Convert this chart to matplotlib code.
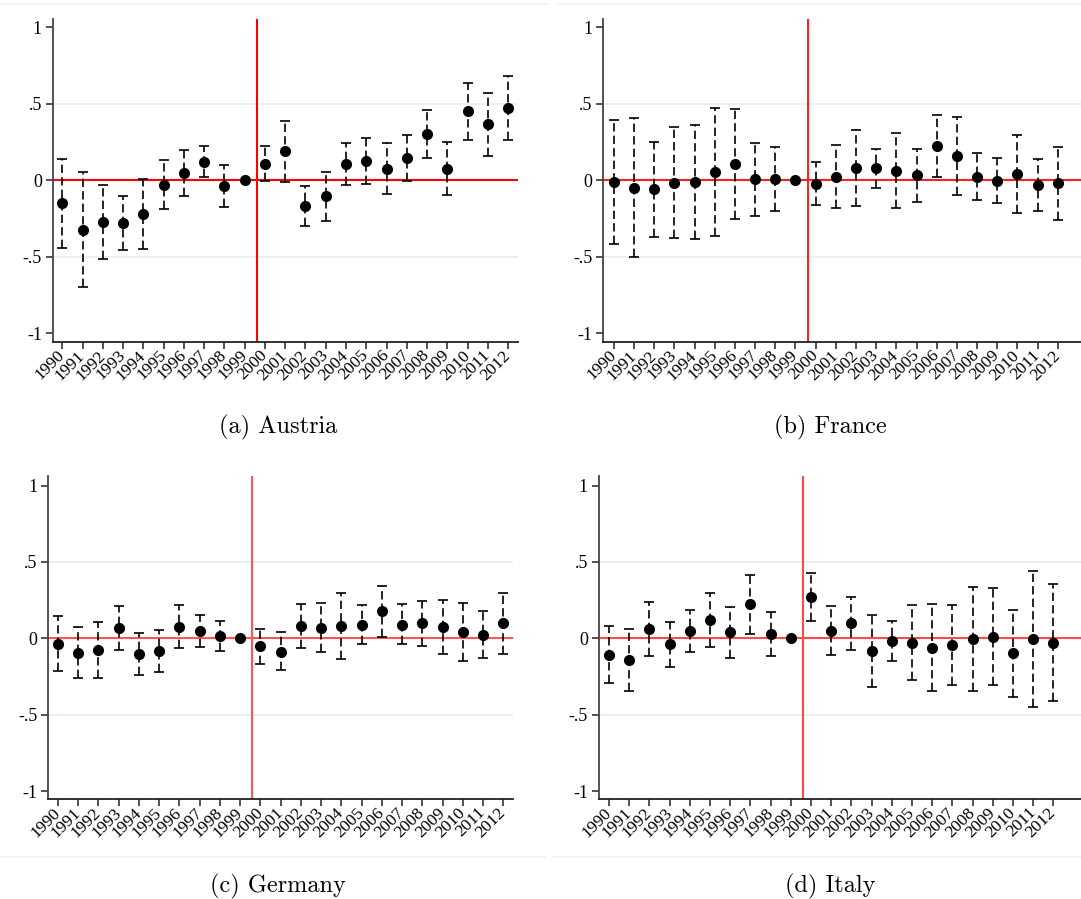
import matplotlib
matplotlib.use("Agg")
import matplotlib.pyplot as plt
from matplotlib.lines import Line2D
import numpy as np

years = list(range(1990, 2013))
year_labels = [str(y) for y in years]
ytick_vals = [-1, -0.5, 0, 0.5, 1]
ytick_labels = ["-1", "-.5", "0", ".5", "1"]
treatment_year = 1999.6

# Austria
austria_coef = [-0.15, -0.325, -0.275, -0.277, -0.222, -0.028, 0.046, 0.122, -0.037, 0.0,
                0.109, 0.192, -0.17, -0.105, 0.109, 0.126, 0.076, 0.148, 0.30, 0.076,
                0.451, 0.366, 0.47]
austria_hi = [0.14, 0.052, -0.033, -0.10, 0.007, 0.133, 0.198, 0.222, 0.10, 0.0,
              0.222, 0.39, -0.037, 0.052, 0.246, 0.279, 0.242, 0.298, 0.458, 0.248,
              0.638, 0.571, 0.68]
austria_lo = [-0.445, -0.70, -0.516, -0.455, -0.449, -0.19, -0.105, 0.022, -0.172, 0.0,
              -0.004, -0.009, -0.30, -0.264, -0.028, -0.022, -0.087, -0.002, 0.144, -0.094,
              0.266, 0.161, 0.261]

# France
france_coef = [-0.011, -0.052, -0.059, -0.015, -0.011, 0.054, 0.107, 0.007, 0.009, 0.0,
               -0.022, 0.024, 0.081, 0.078, 0.063, 0.035, 0.224, 0.159, 0.024, -0.002,
               0.041, -0.028, -0.02]
france_hi = [0.394, 0.405, 0.253, 0.351, 0.364, 0.475, 0.468, 0.246, 0.218, 0.0,
             0.12, 0.229, 0.329, 0.203, 0.307, 0.207, 0.427, 0.412, 0.179, 0.146,
             0.298, 0.142, 0.22]
france_lo = [-0.418, -0.503, -0.373, -0.377, -0.386, -0.364, -0.253, -0.233, -0.198, 0.0,
             -0.163, -0.183, -0.166, -0.048, -0.183, -0.142, 0.022, -0.094, -0.129, -0.150,
             -0.216, -0.198, -0.261]

# Germany
germany_coef = [-0.035, -0.094, -0.076, 0.068, -0.105, -0.083, 0.076, 0.048, 0.013, 0.0,
                -0.052, -0.087, 0.081, 0.07, 0.081, 0.09, 0.179, 0.09, 0.10, 0.074,
                0.044, 0.024, 0.098]
germany_hi = [0.146, 0.076, 0.107, 0.212, 0.033, 0.055, 0.216, 0.153, 0.111, 0.0,
              0.061, 0.039, 0.223, 0.231, 0.297, 0.218, 0.345, 0.223, 0.247, 0.251,
              0.234, 0.177, 0.299]
germany_lo = [-0.216, -0.262, -0.262, -0.074, -0.242, -0.218, -0.066, -0.055, -0.085, 0.0,
              -0.166, -0.21, -0.061, -0.092, -0.133, -0.037, 0.011, -0.039, -0.048, -0.105,
              -0.146, -0.127, -0.103]

# Italy
italy_coef = [-0.109, -0.142, 0.059, -0.039, 0.046, 0.12, 0.039, 0.223, 0.026, 0.0,
              0.271, 0.05, 0.10, -0.083, -0.017, -0.028, -0.061, -0.046, -0.007, 0.009,
              -0.098, -0.007, -0.031]
italy_hi = [0.081, 0.059, 0.238, 0.107, 0.186, 0.297, 0.207, 0.417, 0.172, 0.0,
            0.428, 0.212, 0.273, 0.153, 0.111, 0.216, 0.227, 0.218, 0.336, 0.332,
            0.186, 0.439, 0.354]
italy_lo = [-0.295, -0.343, -0.116, -0.186, -0.092, -0.057, -0.129, 0.031, -0.118, 0.0,
            0.114, -0.109, -0.074, -0.319, -0.146, -0.271, -0.345, -0.306, -0.345, -0.306,
            -0.384, -0.452, -0.41]

captions = ["(a) Austria", "(b) France", "(c) Germany", "(d) Italy"]

plt.rcParams['axes.unicode_minus'] = False
plt.rcParams['font.family'] = ['Liberation Serif', 'DejaVu Serif']

W, H = 1081, 899
fig = plt.figure(figsize=(W / 100, H / 100), dpi=100)

CAPFONT = ['cmr10', 'DejaVu Serif']


def px_axes(left, right, top, bottom):
    return fig.add_axes([left / W, 1 - bottom / H, (right - left) / W, (bottom - top) / H])


def panel(ax, coef, lo, hi, xlim, ylim, redcol):
    x = np.array(years, dtype=float)
    c = np.array(coef)
    l = np.array(lo)
    h = np.array(hi)
    ax.set_xlim(*xlim)
    ax.set_ylim(*ylim)
    for v in (0.5, -0.5):
        ax.axhline(v, color='#e6eeef', lw=1.2, zorder=0)
    ax.axhline(0, color=redcol, lw=1.5, zorder=1)
    ax.axvline(treatment_year, color=redcol, lw=1.5, zorder=1)
    err = np.vstack([c - l, h - c])
    cont = ax.errorbar(x, c, yerr=err, fmt='o', color='black', ms=7,
                       elinewidth=1.2, capsize=3.5, capthick=1.2, zorder=3)
    for lc in cont[2]:
        lc.set_linestyle((0, (5, 2.5)))
    for s in ('top', 'right'):
        ax.spines[s].set_visible(False)
    ax.spines['left'].set_color('#444444')
    ax.spines['left'].set_linewidth(1.3)
    ax.spines['bottom'].set_color('#222222')
    ax.spines['bottom'].set_linewidth(1.3)
    ax.set_xticks(years)
    ax.set_xticklabels(year_labels)
    ax.set_yticks(ytick_vals)
    ax.set_yticklabels(ytick_labels)
    ax.tick_params(axis='both', direction='out', length=5, width=1.1, color='#222222')
    ax.tick_params(axis='x', pad=3, labelsize=12.5)
    ax.tick_params(axis='y', pad=3, labelsize=13)
    for t in ax.get_xticklabels():
        t.set_rotation(45)
        t.set_rotation_mode('anchor')
        t.set_ha('right')
        t.set_va('center')
    ax.set_facecolor('none')


ax_a = px_axes(53, 518, 19, 342)
panel(ax_a, austria_coef, austria_lo, austria_hi, (1989.54, 2012.49), (-1.057, 1.054), '#ff0000')
ax_b = px_axes(603.3, 1081, 19, 342)
panel(ax_b, france_coef, france_lo, france_hi, (1989.48, 2013.15), (-1.057, 1.054), '#ff2020')
ax_c = px_axes(48.3, 513, 476, 799.3)
panel(ax_c, germany_coef, germany_lo, germany_hi, (1989.52, 2012.48), (-1.054, 1.063), '#ff5555')
ax_d = px_axes(599, 1081, 476, 799.3)
panel(ax_d, italy_coef, italy_lo, italy_hi, (1989.5, 2013.37), (-1.054, 1.063), '#ff4a4a')

# captions
cap_pos = [(278, 427), (830, 427), (278, 886), (830, 886)]
for (cx, cy), txt in zip(cap_pos, captions):
    fig.text(cx / W, 1 - cy / H, txt, ha='center', va='center', family=CAPFONT, fontsize=17.5)

# faint frame lines
for (x0, x1, y) in [(0, 548, 4), (558, 1081, 4), (0, 545, 857), (553, 1081, 857)]:
    fig.add_artist(Line2D([x0 / W, x1 / W], [1 - y / H, 1 - y / H],
                          transform=fig.transFigure, color='#eef2f3', lw=1.2))

fig.savefig('out.png', dpi=100)
